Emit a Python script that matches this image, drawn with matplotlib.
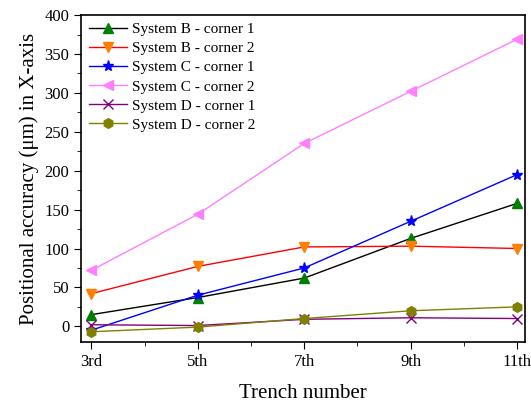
import matplotlib.pyplot as plt
from matplotlib.ticker import AutoMinorLocator, MultipleLocator

plt.rcParams['font.family'] = ['Liberation Serif', 'DejaVu Serif']

trench = [3, 5, 7, 9, 11]
trench_labels = ['3rd', '5th', '7th', '9th', '11th']

b_c1 = [15, 37, 62, 113, 158]
b_c2 = [42, 77, 102, 103, 100]
c_c1 = [-5, 40, 75, 135, 195]
c_c2 = [72, 144, 235, 302, 369]
d_c1 = [2, 1, 9, 11, 10]
d_c2 = [-7, -1, 10, 20, 25]

fig = plt.figure(figsize=(5.31, 4.07), dpi=100)
ax = fig.add_axes([0.153, 0.160, 0.836, 0.803])

ax.plot(trench, b_c1, color='black', lw=1, marker='^', ms=7, mfc='green', mec='green', label='System B - corner 1')
ax.plot(trench, b_c2, color='red', lw=1, marker='v', ms=7, mfc='#ff8000', mec='#ff8000', label='System B - corner 2')
ax.plot(trench, c_c1, color='blue', lw=1, marker='*', ms=8, mfc='blue', mec='blue', label='System C - corner 1')
ax.plot(trench, c_c2, color='#ff80ff', lw=1, marker='<', ms=7, mfc='#ff80ff', mec='#ff80ff', label='System C - corner 2')
ax.plot(trench, d_c1, color='#800080', lw=1, marker='x', ms=7, mew=1, label='System D - corner 1')
ax.plot(trench, d_c2, color='#808000', lw=1, marker='h', ms=7, mfc='#808000', mec='#808000', label='System D - corner 2')

ax.set_xlim(2.81, 11.15)
ax.set_ylim(-20, 400)
ax.set_xticks(trench)
ax.set_xticklabels(trench_labels)
ax.xaxis.set_minor_locator(MultipleLocator(1))
ax.yaxis.set_major_locator(MultipleLocator(50))
ax.yaxis.set_minor_locator(AutoMinorLocator(2))

ax.tick_params(which='both', direction='out', labelsize=12, top=False, right=False)
ax.tick_params(which='major', length=5)
ax.tick_params(which='minor', length=3)
for s in ax.spines.values():
    s.set_linewidth(1.2)

ax.set_xlabel('Trench number', fontsize=15, labelpad=10)
ax.set_ylabel('Positional accuracy (μm) in X-axis', fontsize=15)

ax.legend(loc='upper left', frameon=False, fontsize=11, handlelength=2.5,
          labelspacing=0.35, borderaxespad=0.1, handletextpad=0.3)

fig.savefig('out.png', dpi=100)
